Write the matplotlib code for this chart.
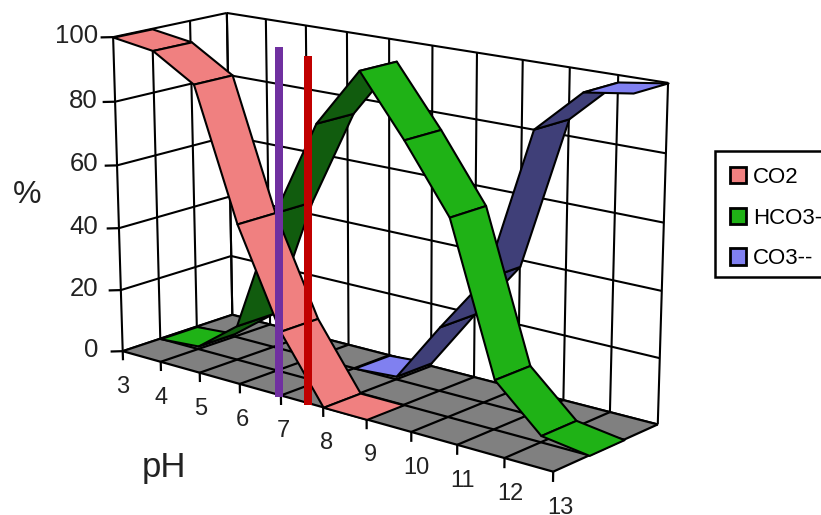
import numpy as np
import matplotlib
matplotlib.use('Agg')
import matplotlib.pyplot as plt
from matplotlib.patches import Patch, Rectangle
from mpl_toolkits.mplot3d.art3d import Poly3DCollection, Line3DCollection

plt.rcParams['font.family'] = ['Liberation Sans', 'DejaVu Sans']

W, H = 821, 515

ph = [3, 4, 5, 6, 7, 8, 9, 10, 11, 12, 13]
pct_ticks = [0, 20, 40, 60, 80, 100]
co2_ph = [3, 4, 5, 6, 7, 8, 9]
co2 = [100, 98, 90, 50, 20, 0, 0]
hco3_ph = [3, 4, 5, 6, 7, 8, 9, 10, 11, 12, 13]
hco3 = [0, 1, 11, 50, 80, 98, 80, 60, 15, 2, 0]
co3_ph = [7, 8, 9, 10, 11, 12, 13]
co3 = [0, 1, 20, 38, 85, 98, 100]

# axis corners (pH, depth, %) and where they sit in the picture, used for the camera
corners = [(3, 0, 0), (13, 0, 0), (13, 3, 0), (3, 3, 0), (3, 0, 100), (3, 3, 100), (13, 3, 100)]
pixels = [(123, 351), (553, 472), (658, 424), (232, 315), (113, 37), (227, 13), (668, 83)]

A, b = [], []
for (x, y, z), (u, v) in zip(corners, pixels):
    A.append([x, y, z, 1, 0, 0, 0, 0, -u*x, -u*y, -u*z])
    A.append([0, 0, 0, 0, x, y, z, 1, -v*x, -v*y, -v*z])
    b += [u, v]
cam = np.linalg.lstsq(np.array(A, float), np.array(b, float), rcond=None)[0]
P = np.append(cam, 1).reshape(3, 4)


def project(x, y, z):
    w = P @ [x, y, z, 1]
    return w[0]/w[2], w[1]/w[2]


def fx(u):
    return u / W


def fy(v):
    return 1 - v / H


fig = plt.figure(figsize=(W/100, H/100), dpi=100)
# 3d axes has to stay square, so make it as wide as the figure and let it overhang
ax = fig.add_axes([0, (H-W)/2/H, 1, W/H], projection='3d', computed_zorder=False)
ax.set_axis_off()
ax.viewLim.intervalx = (0, W)
ax.viewLim.intervaly = (H + (W-H)/2, -(W-H)/2)
M = np.array([P[0], P[1], [0, 1, 0, 0], P[2]])
ax.get_proj = lambda: M

# walls
segs = []
for z in pct_ticks:
    segs.append([(3, 0, z), (3, 3, z)])
    segs.append([(3, 3, z), (13, 3, z)])
for y in [0, 1, 2, 3]:
    segs.append([(3, y, 0), (3, y, 100)])
for x in ph:
    segs.append([(x, 3, 0), (x, 3, 100)])
ax.add_collection3d(Line3DCollection(segs, colors='k', linewidths=1.5, zorder=1))

# floor
floor = Poly3DCollection([[(3, 0, 0), (13, 0, 0), (13, 3, 0), (3, 3, 0)]], facecolor='#808080',
                         edgecolor='none', zorder=2)
ax.add_collection3d(floor)
segs = []
for x in ph:
    segs.append([(x, 0, 0), (x, 3, 0)])
for y in [0, 1, 2, 3]:
    segs.append([(3, y, 0), (13, y, 0)])
# tick marks
for x in ph:
    segs.append([(x, 0, 0), (x, 0, -3)])
for z in pct_ticks:
    segs.append([(3, 0, z), (3 - 0.16, -0.16, z)])
ax.add_collection3d(Line3DCollection(segs, colors='k', linewidths=1.6, zorder=3))


def ribbon(xs, vals, y, top, under, zorder):
    for i in range(len(xs) - 1):
        quad = [(xs[i], y, vals[i]), (xs[i], y + 1, vals[i]),
                (xs[i+1], y + 1, vals[i+1]), (xs[i+1], y, vals[i+1])]
        pts = np.array([project(*q) for q in quad])
        area = np.sum(pts[:, 0]*np.roll(pts[:, 1], -1) - np.roll(pts[:, 0], -1)*pts[:, 1])
        # the sign of the area in the picture says which side of the ribbon we look at
        color = top if area > 0 else under
        poly = Poly3DCollection([quad], facecolor=color, edgecolor='k', linewidths=1.5,
                                zorder=zorder + i*0.01)
        ax.add_collection3d(poly)


ribbon(co3_ph, co3, 2, '#8080F0', '#3F3F78', 4)
ribbon(hco3_ph, hco3, 1, '#1FB216', '#115C0E', 5)
ribbon(co2_ph, co2, 0, '#F08080', '#F08080', 6)

# the two marker bars drawn over the chart
fig.add_artist(Rectangle((fx(275.3), fy(397)), 8/W, 350/H, transform=fig.transFigure,
                         facecolor='#7030A0', edgecolor='none', zorder=5))
fig.add_artist(Rectangle((fx(303.5), fy(405)), 8/W, 349.5/H, transform=fig.transFigure,
                         facecolor='#C00000', edgecolor='none', zorder=5))

for z in pct_ticks:
    u, v = project(3, 0, z)
    fig.text(fx(98), fy(v - 1), str(z), ha='right', va='center', fontsize=18.5, color='#222222')
for x in ph:
    u, v = project(x, 0, 0)
    fig.text(fx(u + 0.7*(x - 3)), fy(v + 36), str(x), ha='center', va='center', fontsize=17,
             color='#222222')

fig.text(fx(27), fy(195), '%', ha='center', va='center', fontsize=23, color='#222222')
fig.text(fx(164), fy(468), 'pH', ha='center', va='center', fontsize=25, color='#222222')

# legend box runs off the right edge, same as the original
fig.add_artist(Rectangle((fx(714.5), fy(277)), 120/W, 126/H, transform=fig.transFigure,
                         facecolor='white', edgecolor='k', linewidth=1.8, zorder=3))
handles = [Patch(facecolor='#F08080', edgecolor='k', linewidth=2),
           Patch(facecolor='#1FB216', edgecolor='k', linewidth=2),
           Patch(facecolor='#8080F0', edgecolor='k', linewidth=2)]
leg = fig.legend(handles, ['CO2', 'HCO3--', 'CO3--'], loc='upper left',
                 bbox_to_anchor=(fx(714), fy(151.5)), borderaxespad=0, fontsize=16,
                 handlelength=0.75, handleheight=0.75, handletextpad=0.3, labelspacing=0.88,
                 borderpad=0.7, frameon=False)
leg.set_zorder(4)

fig.savefig('out.png', dpi=100)
